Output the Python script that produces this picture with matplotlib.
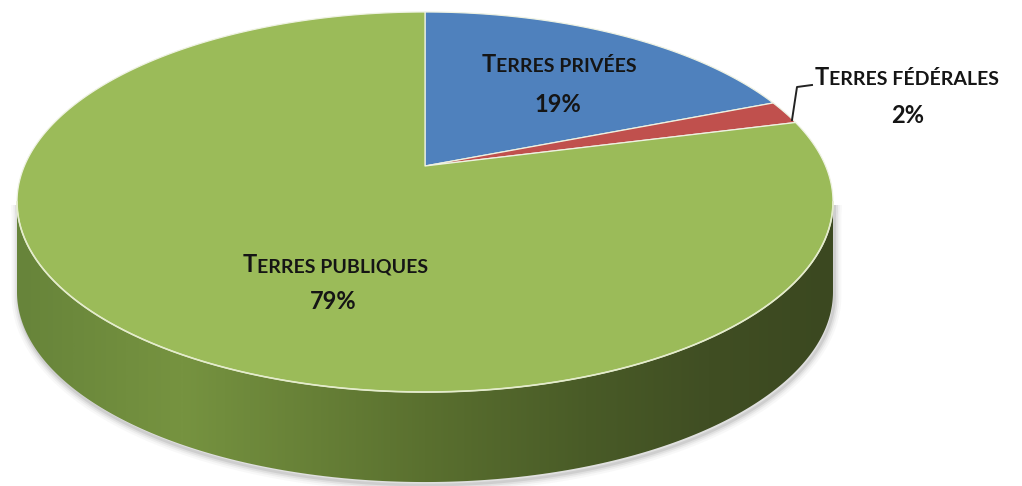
import numpy as np
import matplotlib
matplotlib.use("Agg")
import matplotlib.pyplot as plt
from matplotlib.patches import Polygon
from matplotlib.colors import LinearSegmentedColormap

# data
labels = ["Terres privées", "Terres fédérales", "Terres publiques"]
values = [19, 2, 79]
colors = ["#4f81bd", "#c0504d", "#9bbb59"]
pct_text = ["19%", "2%", "79%"]

# geometry of the tilted pie (pixel space)
CX, CY = 425.0, 166.0     # apex of the wedges
A, B = 400.6, 183.2       # radii before perspective
K = 0.1895                # perspective strength
DEPTH = 90.0


def proj(phi, r=1.0, drop=0.0):
    x = r * np.sin(phi)
    s = -r * np.cos(phi)
    d = 1 - K * s
    return CX + A * x / d, CY + B * s / d + drop


fig = plt.figure(figsize=(10.22, 4.86), dpi=100)
ax = fig.add_axes([0, 0, 1, 1])
ax.set_xlim(0, 1022)
ax.set_ylim(486, 0)
ax.axis("off")

# visible side (front arc between the two widest points)
p1 = np.arccos(-K)
p2 = 2 * np.pi - p1
arc = np.linspace(p1, p2, 300)
tx, ty = proj(arc)
side = np.column_stack([np.r_[tx, tx[::-1]], np.r_[ty, ty[::-1] + DEPTH]])

# soft shadow round the side
for lw, al in [(10, 0.04), (7, 0.06), (4.5, 0.09), (2, 0.13)]:
    ax.add_patch(Polygon(side + [1.5, 3], closed=True, facecolor="none",
                         edgecolor="#5a5a5a", lw=lw, alpha=al, zorder=1))

side_poly = Polygon(side, closed=True, facecolor="none", edgecolor="none", zorder=2)
ax.add_patch(side_poly)
grad = LinearSegmentedColormap.from_list("side", [
    (0.0, "#67843a"), (0.2, "#769340"), (0.5, "#5a702f"),
    (0.7, "#495b27"), (0.85, "#404e23"), (1.0, "#3b4820")])
xmin, xmax = tx.min(), tx.max()
img = ax.imshow(np.linspace(0, 1, 400).reshape(1, -1), cmap=grad, aspect="auto",
                extent=(xmin, xmax, ty.max() + DEPTH + 2, ty.min() - 2), zorder=2)
img.set_clip_path(side_poly)

# top face wedges, clockwise from 12 o'clock
start = 0.0
total = float(sum(values))
for v, c in zip(values, colors):
    end = start + 2 * np.pi * v / total
    ph = np.linspace(start, end, max(int(v * 6), 8))
    px, py = proj(ph)
    pts = np.column_stack([np.r_[CX, px], np.r_[CY, py]])
    ax.add_patch(Polygon(pts, closed=True, facecolor=c, edgecolor="#eef2e2",
                         lw=0.9, zorder=3, joinstyle="round"))
    start = end

# light rim on the front edge of the top face
ax.plot(tx, ty, color="#e4eccb", lw=1.2, zorder=4)

# labels in small caps
font = ["Lato", "DejaVu Sans"]
tcol = "#151515"
renderer = fig.canvas.get_renderer()


def small_caps(cx, y, word, big=17, small=14):
    word = word.upper()
    t1 = ax.text(0, y, word[0], fontsize=big, fontweight="bold", family=font,
                 color=tcol, ha="left", va="baseline", zorder=6)
    t2 = ax.text(0, y, word[1:], fontsize=small, fontweight="bold", family=font,
                 color=tcol, ha="left", va="baseline", zorder=6)
    w1 = t1.get_window_extent(renderer).width
    w2 = t2.get_window_extent(renderer).width
    x0 = cx - (w1 + w2) / 2
    t1.set_x(x0)
    t2.set_x(x0 + w1)


label_pos = [(559, 72, 558, 112), (907, 85, 908, 123), (335, 272, 333, 309)]
for lab, pt, (lx, ly, px_, py_) in zip(labels, pct_text, label_pos):
    small_caps(lx, ly, lab)
    ax.text(px_, py_, pt, fontsize=17, fontweight="bold", family=font, color=tcol,
            ha="center", va="baseline", zorder=6)

# leader line for the small slice
ax.plot([792, 797, 812], [120, 87, 85], color="#222222", lw=1.4, zorder=5)

fig.savefig("out.png", dpi=100)
